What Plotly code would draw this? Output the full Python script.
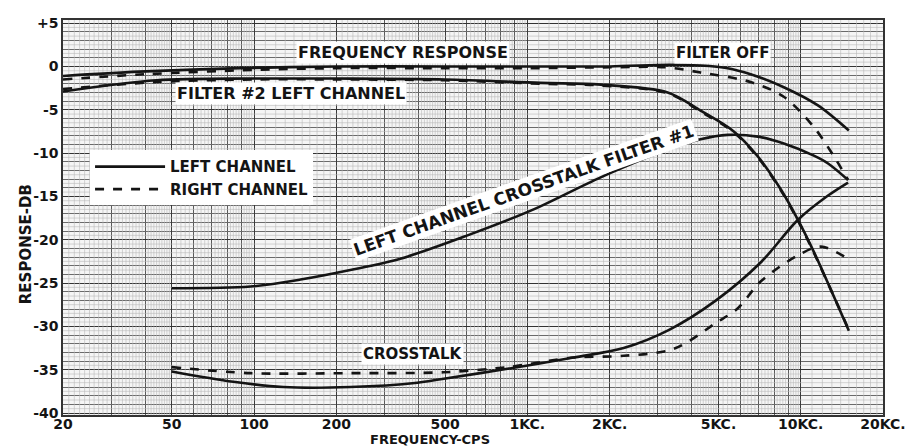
import numpy as np
import plotly.graph_objects as go

# ---------------- data ----------------
resp_left_f = [20, 38, 89, 200, 500, 1000, 2000, 3300, 4300, 5400, 6560, 8670, 11560, 15000]
resp_left_db = [-1.1, -0.6, -0.2, 0.0, 0.0, 0.0, 0.0, 0.2, 0.1, -0.2, -0.9, -2.4, -4.5, -7.4]

resp_right_f = [20, 40, 100, 200, 500, 1000, 2000, 3200, 4300, 6560, 8670, 11170, 13240, 14900]
resp_right_db = [-1.5, -0.9, -0.4, -0.2, -0.2, -0.2, -0.1, -0.1, -0.7, -1.8, -3.5, -7.0, -10.4, -13.1]

filt2_left_f = [20, 44, 100, 200, 500, 1117, 1854, 3260, 4300, 5690, 6970, 8460, 9770, 11170, 15000]
filt2_left_db = [-2.9, -1.6, -1.4, -1.4, -1.5, -1.9, -2.1, -3.0, -5.1, -7.5, -10.4, -14.2, -17.7, -21.4, -30.5]

filt2_right_f = [20, 44, 100, 200, 500, 1117, 1854, 3260, 4300, 5690, 6970, 8460, 9770, 11170, 15000]
filt2_right_db = [-2.6, -1.8, -1.5, -1.5, -1.6, -2.0, -2.2, -3.1, -5.2, -7.6, -10.5, -14.3, -17.8, -21.5, -30.4]

xt_filt1_f = [50, 97, 148, 225, 343, 604, 1054, 1854, 3260, 4300, 5410, 6970, 8670, 11170, 12590, 14900]
xt_filt1_db = [-25.6, -25.4, -24.6, -23.5, -22.2, -19.5, -16.5, -12.8, -9.6, -8.4, -7.9, -8.1, -8.9, -10.3, -11.2, -13.1]

xt_left_f = [50, 84, 128, 225, 396, 481, 846, 1476, 2250, 3300, 4900, 7150, 9770, 12590, 14900]
xt_left_db = [-35.2, -36.4, -37.0, -37.0, -36.5, -36.1, -34.9, -33.6, -32.5, -30.4, -27.0, -22.6, -17.7, -14.9, -13.4]

xt_right_f = [50, 97, 225, 493, 846, 1476, 2250, 3430, 4900, 5890, 7150, 9770, 11860, 14900]
xt_right_db = [-34.7, -35.4, -35.4, -35.3, -34.7, -33.6, -33.4, -32.6, -29.6, -27.9, -24.8, -21.8, -20.8, -22.2]

x_tickvals = [20, 50, 100, 200, 500, 1000, 2000, 5000, 10000, 20000]
x_ticktext = ["20", "50", "100", "200", "500", "1KC.", "2KC.", "5KC.", "10KC.", "20KC."]
y_tickvals = [5, 0, -5, -10, -15, -20, -25, -30, -35, -40]
y_ticktext = ["+5", "0", "-5", "-10", "-15", "-20", "-25", "-30", "-35", "-40"]

# ---------------- styling ----------------
XMIN, XMAX = 20, 20000
YMIN, YMAX = -40.23, 5.36
INK = "#141414"
FONT = "DejaVu Sans"
LW = 2.6

fig = go.Figure()

# graph-paper fine grid (decoration)
fine_x = []
for d in range(1, 5):
    base = 10 ** d
    for k in range(10, 100):
        m = k / 10
        if k % 10 == 0:
            continue
        if m >= 5 and k % 2:
            continue
        v = m * base
        if XMIN < v < XMAX:
            fine_x.append(v)
vx, vy = [], []
for v in fine_x:
    vx += [v, v, None]
    vy += [YMIN, YMAX, None]
fig.add_trace(go.Scatter(x=vx, y=vy, mode="lines", line=dict(color="#b8b8b8", width=0.6),
                         hoverinfo="skip", showlegend=False))
hx, hy = [], []
for k in range(-80, 11):
    v = k / 2
    if k % 2 == 0:
        continue
    hx += [XMIN, XMAX, None]
    hy += [v, v, None]
fig.add_trace(go.Scatter(x=hx, y=hy, mode="lines", line=dict(color="#b8b8b8", width=0.6),
                         hoverinfo="skip", showlegend=False))


def curve(f, db, dash, name=None, legend=False):
    fig.add_trace(go.Scatter(
        x=f, y=db, mode="lines", name=name, showlegend=legend,
        line=dict(color=INK, width=LW, dash=dash, shape="spline", smoothing=0.9),
        hoverinfo="skip"))


curve(resp_left_f, resp_left_db, "solid", "LEFT CHANNEL", True)
curve(resp_right_f, resp_right_db, "dash", "RIGHT CHANNEL", True)
curve(filt2_right_f, filt2_right_db, "dash")
curve(filt2_left_f, filt2_left_db, "solid")
curve(xt_filt1_f, xt_filt1_db, "solid")
curve(xt_right_f, xt_right_db, "dash")
curve(xt_left_f, xt_left_db, "solid")

lab_font = dict(family=FONT, size=16, color=INK, weight="bold")


def label(text, f, db, angle=0, size=16):
    fig.add_annotation(x=np.log10(f), y=db, xref="x", yref="y", text=text,
                       showarrow=False, textangle=angle, bgcolor="white",
                       borderpad=1, font=dict(lab_font, size=size))


label("FREQUENCY RESPONSE", 352, 1.6)
label("FILTER OFF", 5160, 1.5, size=15)
label("FILTER #2 LEFT CHANNEL", 136, -3.1)
label("CROSSTALK", 380, -33.2, size=15)
label("LEFT CHANNEL CROSSTALK FILTER #1", 975, -14.3, angle=-19.5, size=17)

# the page body has an 8px margin, so the figure is shifted by 8px; margins compensate
fig.add_annotation(xref="paper", yref="paper", x=-0.0585, y=0.4325, text="RESPONSE-DB",
                   textangle=-90, showarrow=False, font=dict(lab_font, size=15))
fig.add_annotation(xref="paper", yref="paper", x=0.4476, y=-0.061, text="FREQUENCY-CPS",
                   showarrow=False, yanchor="middle", font=dict(lab_font, size=13))

fig.update_layout(
    width=923, height=448,
    margin=dict(l=55, r=48, t=7, b=41),
    paper_bgcolor="white", plot_bgcolor="#f5f5f5",
    font=dict(family=FONT, color=INK),
    legend=dict(x=0.033, y=0.67, xanchor="left", yanchor="top", bgcolor="white",
                font=dict(family=FONT, size=15, color=INK, weight="bold"),
                itemwidth=70, tracegroupgap=0),
)
fig.update_xaxes(
    type="log", range=[np.log10(XMIN), np.log10(XMAX)],
    tickvals=x_tickvals, ticktext=x_ticktext, ticks="", ticklen=0,
    ticklabelstandoff=-5,
    tickfont=dict(family=FONT, size=14, color=INK, weight="bold"),
    showgrid=True, gridcolor="#3a3a3a", gridwidth=1.2,
    minor=dict(dtick="D1", showgrid=True, gridcolor="#5a5a5a", gridwidth=1),
    showline=True, linecolor="#333", linewidth=1.5, mirror=True, zeroline=False,
)
fig.update_yaxes(
    range=[YMIN, YMAX], tickvals=y_tickvals, ticktext=y_ticktext, ticks="",
    tickfont=dict(family=FONT, size=14, color=INK, weight="bold"),
    showgrid=True, gridcolor="#333", gridwidth=1.3,
    minor=dict(dtick=1, showgrid=True, gridcolor="#6a6a6a", gridwidth=0.8),
    showline=True, linecolor="#333", linewidth=1.5, mirror=True, zeroline=False,
)

fig.write_html("out.html")
